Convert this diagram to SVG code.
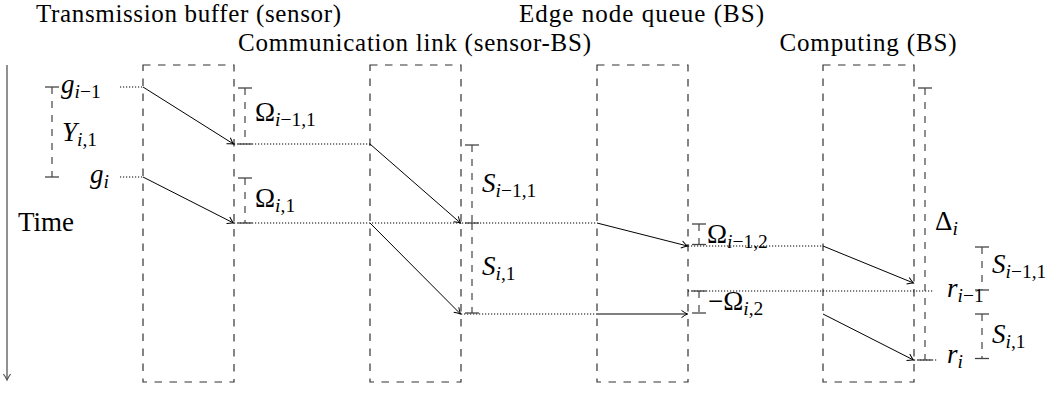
<svg xmlns="http://www.w3.org/2000/svg" width="1060" height="393" viewBox="0 0 1060 393">
<defs>
<marker id="ah" markerUnits="userSpaceOnUse" viewBox="-8 -5 9 10" refX="0" refY="0" markerWidth="9" markerHeight="10" orient="auto" overflow="visible">
<path d="M-6,-3.6 Q-2.5,-1 0,0 Q-2.5,1 -6,3.6" fill="none" stroke="#000" stroke-width="1"/>
</marker>
<marker id="ahg" markerUnits="userSpaceOnUse" viewBox="-8 -5 9 10" refX="0" refY="0" markerWidth="9" markerHeight="10" orient="auto" overflow="visible">
<path d="M-6,-3.6 Q-2.5,-1 0,0 Q-2.5,1 -6,3.6" fill="none" stroke="#555" stroke-width="1.2"/>
</marker>
</defs>
<style>
.box{fill:none;stroke:#333;stroke-width:1.2;stroke-dasharray:7.5 7.5}
.br{stroke:#444;stroke-width:1.2;stroke-dasharray:7 7;fill:none}
.tk{stroke:#444;stroke-width:1.3}
.dot{stroke:#000;stroke-width:1.1;stroke-dasharray:1.2 1.8;fill:none}
.arr{stroke:#000;stroke-width:1;fill:none;marker-end:url(#ah)}
.title{font-family:"Liberation Serif",serif;font-size:25px;text-anchor:middle;fill:#000}
.m{font-family:"Liberation Serif",serif;font-size:27px;fill:#000}
.it{font-style:italic}
.s{font-size:19.5px}
</style>
<rect width="1060" height="393" fill="#fff"/>

<g id="time-axis">
<line x1="7" y1="65" x2="7" y2="380" stroke="#555" stroke-width="1.3" marker-end="url(#ahg)"/>
<text x="18" y="231" class="m" font-size="25">Time</text>
</g>

<g id="buffer">
<rect class="box" x="143" y="65" width="91" height="317"/>
<text class="title" x="188.5" y="22" textLength="305" lengthAdjust="spacing">Transmission buffer (sensor)</text>
</g>
<g id="link">
<rect class="box" x="370" y="65" width="91" height="317"/>
<text class="title" x="414.5" y="51" textLength="353" lengthAdjust="spacing">Communication link (sensor-BS)</text>
</g>
<g id="queue">
<rect class="box" x="597" y="65" width="91" height="317"/>
<text class="title" x="641.5" y="22" textLength="245" lengthAdjust="spacing">Edge node queue (BS)</text>
</g>
<g id="computing">
<rect class="box" x="823" y="65" width="91" height="317"/>
<text class="title" x="868" y="51" textLength="177" lengthAdjust="spacing">Computing (BS)</text>
</g>

<g id="connectors">
<line class="dot" x1="120" y1="87" x2="143" y2="87"/>
<line class="dot" x1="120" y1="177" x2="143" y2="177"/>
<line class="arr" x1="143" y1="87" x2="233.5" y2="144"/>
<line class="arr" x1="143" y1="177" x2="233.5" y2="223"/>
<line class="dot" x1="234" y1="144" x2="370" y2="144"/>
<line class="dot" x1="234" y1="223" x2="597" y2="223"/>
<line class="arr" x1="370" y1="144" x2="460.5" y2="223"/>
<line class="arr" x1="370" y1="223" x2="460.5" y2="314"/>
<line class="dot" x1="461" y1="314" x2="597" y2="314"/>
<line class="arr" x1="597" y1="314" x2="687.5" y2="314"/>
<line class="arr" x1="597" y1="223" x2="687.5" y2="246"/>
<line class="dot" x1="688" y1="246" x2="823" y2="246"/>
<line class="dot" x1="688" y1="291" x2="934" y2="291"/>
<line class="arr" x1="823" y1="246" x2="913.5" y2="283"/>
<line class="arr" x1="823" y1="314" x2="913.5" y2="360"/>
<line class="dot" x1="914" y1="360" x2="938" y2="360"/>
</g>

<g id="bracket-Y">
<line class="br" x1="52" y1="87" x2="52" y2="177"/>
<line class="tk" x1="45" y1="87" x2="59" y2="87"/>
<line class="tk" x1="45" y1="177" x2="59" y2="177"/>
<text class="m" x="62" y="141"><tspan class="it">Y</tspan><tspan class="s it" dy="5">i</tspan><tspan class="s">,1</tspan></text>
</g>
<g id="label-g">
<text class="m" x="61" y="93"><tspan class="it">g</tspan><tspan class="s it" dy="5">i</tspan><tspan class="s">−1</tspan></text>
<text class="m" x="90" y="183"><tspan class="it">g</tspan><tspan class="s it" dy="5">i</tspan></text>
</g>
<g id="bracket-omega1">
<line class="br" x1="245" y1="88" x2="245" y2="144"/>
<line class="tk" x1="238" y1="88" x2="252" y2="88"/>
<line class="tk" x1="238" y1="144" x2="252" y2="144"/>
<text class="m" x="255" y="121">Ω<tspan class="s it" dy="5">i</tspan><tspan class="s">−1,1</tspan></text>
<line class="br" x1="245" y1="178" x2="245" y2="223"/>
<line class="tk" x1="238" y1="178" x2="252" y2="178"/>
<line class="tk" x1="238" y1="223" x2="252" y2="223"/>
<text class="m" x="255" y="207">Ω<tspan class="s it" dy="5">i</tspan><tspan class="s">,1</tspan></text>
</g>
<g id="bracket-S-link">
<line class="br" x1="472" y1="145" x2="472" y2="223"/>
<line class="tk" x1="465" y1="145" x2="479" y2="145"/>
<line class="tk" x1="465" y1="223" x2="479" y2="223"/>
<text class="m" x="482" y="192"><tspan class="it">S</tspan><tspan class="s it" dy="5">i</tspan><tspan class="s">−1,1</tspan></text>
<line class="br" x1="472" y1="223" x2="472" y2="313"/>
<line class="tk" x1="465" y1="313" x2="479" y2="313"/>
<text class="m" x="482" y="275"><tspan class="it">S</tspan><tspan class="s it" dy="5">i</tspan><tspan class="s">,1</tspan></text>
</g>
<g id="bracket-omega2">
<line class="br" x1="699" y1="224" x2="699" y2="244.5"/>
<line class="tk" x1="692" y1="224" x2="706" y2="224"/>
<line class="tk" x1="692" y1="244.5" x2="706" y2="244.5"/>
<text class="m" x="707" y="243">Ω<tspan class="s it" dy="5">i</tspan><tspan class="s">−1,2</tspan></text>
<line class="br" x1="699" y1="291" x2="699" y2="313"/>
<line class="tk" x1="692" y1="291" x2="706" y2="291"/>
<line class="tk" x1="692" y1="313" x2="706" y2="313"/>
<text class="m" x="708" y="310">−Ω<tspan class="s it" dy="5">i</tspan><tspan class="s">,2</tspan></text>
</g>
<g id="bracket-delta">
<line class="br" x1="925" y1="88" x2="925" y2="360"/>
<line class="tk" x1="918" y1="88" x2="932" y2="88"/>
<line class="tk" x1="918" y1="360" x2="932" y2="360"/>
<text class="m" x="935" y="230">Δ<tspan class="s it" dy="5">i</tspan></text>
</g>
<g id="bracket-S-comp">
<line class="br" x1="982" y1="247" x2="982" y2="290"/>
<line class="tk" x1="975" y1="247" x2="989" y2="247"/>
<line class="tk" x1="975" y1="290" x2="989" y2="290"/>
<text class="m" x="992" y="273"><tspan class="it">S</tspan><tspan class="s it" dy="5">i</tspan><tspan class="s">−1,1</tspan></text>
<line class="br" x1="982" y1="314" x2="982" y2="358.5"/>
<line class="tk" x1="975" y1="314" x2="989" y2="314"/>
<line class="tk" x1="975" y1="358.5" x2="989" y2="358.5"/>
<text class="m" x="992" y="343"><tspan class="it">S</tspan><tspan class="s it" dy="5">i</tspan><tspan class="s">,1</tspan></text>
</g>
<g id="label-r">
<text class="m" x="947" y="297"><tspan class="it">r</tspan><tspan class="s it" dy="5">i</tspan><tspan class="s">−1</tspan></text>
<text class="m" x="947" y="363"><tspan class="it">r</tspan><tspan class="s it" dy="5">i</tspan></text>
</g>
</svg>
